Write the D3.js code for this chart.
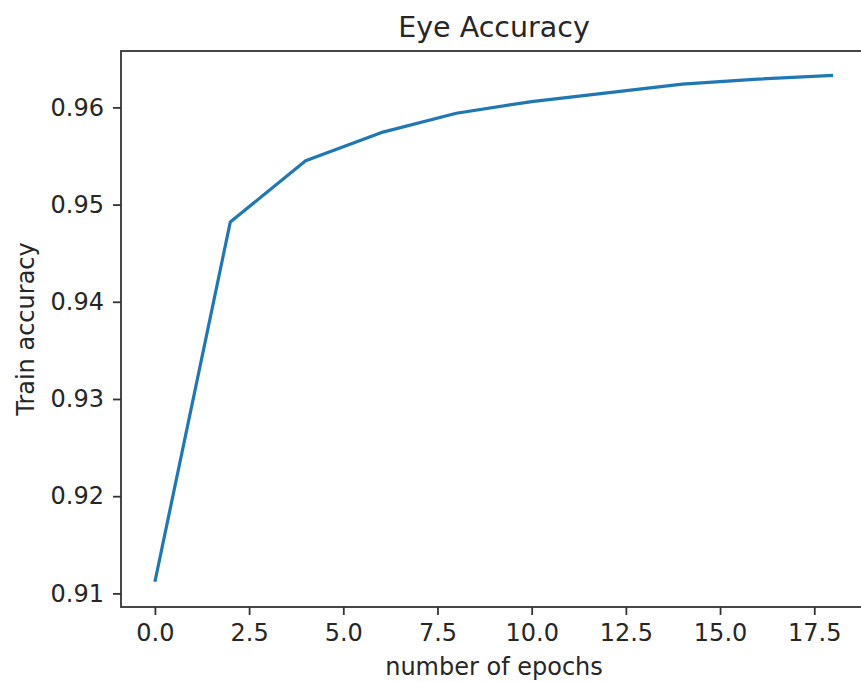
<!DOCTYPE html>
<html>
<head>
<meta charset="utf-8">
<script src="https://cdn.jsdelivr.net/npm/d3@7"></script>
<style>
  html, body { margin: 0; padding: 0; background: #fff; }
  svg { display: block; }
  text { font-family: "DejaVu Sans", sans-serif; fill: #262626; }
</style>
</head>
<body>
<svg id="chart" width="861" height="682"></svg>
<script>
// Data
const epochs = [0, 2, 4, 6, 8, 10, 12, 14, 16, 18];
const trainAccuracy = [0.9112, 0.9482, 0.9545, 0.9574, 0.9594, 0.9606, 0.9615, 0.9624, 0.9629, 0.9633];
const xTicks = [0, 2.5, 5, 7.5, 10, 12.5, 15, 17.5];
const yTicks = [0.91, 0.92, 0.93, 0.94, 0.95, 0.96];
const titleText = "Eye Accuracy";
const xLabelText = "number of epochs";
const yLabelText = "Train accuracy";

const svg = d3.select("#chart");
const pLeft = 121, pTop = 51, pRight = 867, pBottom = 607;

const x = d3.scaleLinear().domain([-0.9, 18.9]).range([pLeft, pRight]);
const y = d3.scaleLinear().domain([0.9086, 0.9658]).range([pBottom, pTop]);

const tickFont = 24;

// line
const line = d3.line().x((d, i) => x(epochs[i])).y(d => y(d));
svg.append("path")
  .datum(trainAccuracy)
  .attr("d", line)
  .attr("fill", "none")
  .attr("stroke", "#1f77b4")
  .attr("stroke-width", 3.2)
  .attr("stroke-linejoin", "round")
  .attr("stroke-linecap", "butt");

// x axis
const xAxis = d3.axisBottom(x).tickValues(xTicks).tickFormat(d3.format(".1f")).tickSizeOuter(0).tickSize(8).tickPadding(9);
const gx = svg.append("g").attr("transform", `translate(0,${pBottom})`).call(xAxis);
gx.select(".domain").remove();
gx.selectAll(".tick line").attr("stroke", "#333").attr("stroke-width", 1.8);
gx.selectAll(".tick text").attr("font-size", tickFont).attr("font-family", "DejaVu Sans").attr("fill", "#262626");

// y axis
const yAxis = d3.axisLeft(y).tickValues(yTicks).tickFormat(d3.format(".2f")).tickSizeOuter(0).tickSize(8).tickPadding(9);
const gy = svg.append("g").attr("transform", `translate(${pLeft},0)`).call(yAxis);
gy.select(".domain").remove();
gy.selectAll(".tick line").attr("stroke", "#333").attr("stroke-width", 1.8);
gy.selectAll(".tick text").attr("font-size", tickFont).attr("font-family", "DejaVu Sans").attr("fill", "#262626");

// spines
svg.append("rect")
  .attr("x", pLeft).attr("y", pTop)
  .attr("width", pRight - pLeft).attr("height", pBottom - pTop)
  .attr("fill", "none").attr("stroke", "#333").attr("stroke-width", 1.8);

// title
svg.append("text")
  .attr("x", (pLeft + pRight) / 2).attr("y", 37)
  .attr("text-anchor", "middle")
  .attr("font-size", 28.5)
  .text(titleText);

// x label
svg.append("text")
  .attr("x", (pLeft + pRight) / 2).attr("y", 675)
  .attr("text-anchor", "middle")
  .attr("font-size", 24)
  .text(xLabelText);

// y label
svg.append("text")
  .attr("transform", `translate(34,${(pTop + pBottom) / 2}) rotate(-90)`)
  .attr("text-anchor", "middle")
  .attr("font-size", 24)
  .text(yLabelText);
</script>
</body>
</html>
